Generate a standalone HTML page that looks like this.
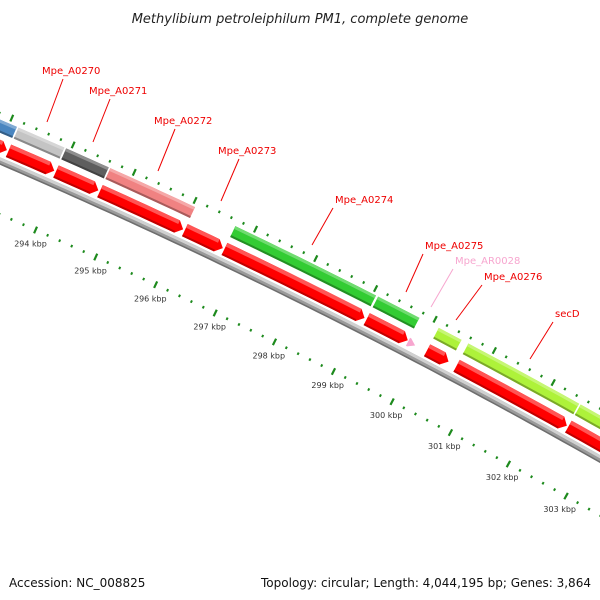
<!DOCTYPE html>
<html><head><meta charset="utf-8"><style>
html,body{margin:0;padding:0;background:#fff;}
svg{display:block;font-family:"DejaVu Sans","Liberation Sans",sans-serif;}
</style></head><body>
<svg id="map" width="600" height="600" viewBox="0 0 600 600" xmlns="http://www.w3.org/2000/svg">
<text x="300" y="23" text-anchor="middle" font-size="13" font-style="italic" fill="#222">Methylibium petroleiphilum PM1, complete genome</text>
<g id="layer"></g>
<text x="9" y="587" font-size="12" fill="#111">Accession: NC_008825</text>
<text x="591" y="587" text-anchor="end" font-size="12" fill="#111" textLength="330" lengthAdjust="spacingAndGlyphs">Topology: circular; Length: 4,044,195 bp; Genes: 3,864</text>
</svg>
<script>
// ---- data ----
const geneNames = ["Mpe_A0269","Mpe_A0270","Mpe_A0271","Mpe_A0272","Mpe_A0274","Mpe_A0275","Mpe_A0276","secD","Mpe_A0278"];
const geneStarts = [291800,293140,293917,294640,296700,299080,300100,300600,302510];
const geneEnds   = [293130,293905,294630,296050,299060,299790,300500,302500,304600];
const geneColors = ["#4a86c0","#c4c4c4","#5e5e5e","#f08282","#33cc33","#33cc33","#aef23a","#aef23a","#aef23a"];
const cdsStarts = [291800,293140,293917,294640,296042,296700,299080,300100,300600,302510];
const cdsEnds   = [293130,293905,294630,296030,296689,299060,299790,300480,302500,304600];
const trnaStart = [299795];
const trnaEnd   = [299915];
const tickKbp = [291,292,293,294,295,296,297,298,299,300,301,302,303,304,305];
const tickLabels = ["291 kbp","292 kbp","293 kbp","294 kbp","295 kbp","296 kbp","297 kbp","298 kbp","299 kbp","300 kbp","301 kbp","302 kbp","303 kbp","304 kbp","305 kbp"];
const labelTexts = ["Mpe_A0270","Mpe_A0271","Mpe_A0272","Mpe_A0273","Mpe_A0274","Mpe_A0275","Mpe_AR0028","Mpe_A0276","secD"];
const labelColors = ["#e00","#e00","#e00","#e00","#e00","#e00","#f7a6cf","#e00","#e00"];
const labelX = [42,89,154,218,335,425,455,484,555];
const labelY = [74,94,124,154,203,249,264,280,317];
const leaderEnd = [[47,122],[93,142],[158,171],[221,201],[312,245],[406,292],[431,307],[456,320],[530,359]];

// ---- geometry: circle through backbone points ----
function circ(a,b,c){
  const d=2*(a[0]*(b[1]-c[1])+b[0]*(c[1]-a[1])+c[0]*(a[1]-b[1]));
  const ux=((a[0]**2+a[1]**2)*(b[1]-c[1])+(b[0]**2+b[1]**2)*(c[1]-a[1])+(c[0]**2+c[1]**2)*(a[1]-b[1]))/d;
  const uy=((a[0]**2+a[1]**2)*(c[0]-b[0])+(b[0]**2+b[1]**2)*(a[0]-c[0])+(c[0]**2+c[1]**2)*(b[0]-a[0]))/d;
  return [ux,uy,Math.hypot(a[0]-ux,a[1]-uy)];
}
const [CX,CY,R]=circ([0,161],[280,290],[600,459]);
const phiA=Math.atan2(161-CY,0-CX), phiB=Math.atan2(290-CY,280-CX);
const S=Math.sign(phiB-phiA);
const PHI0=Math.atan2(186-CY,55-CX);
const PXBP=0.0665;
// negative offset = upper-right side of backbone
function pt(bp,off){
  const f=PHI0+S*(bp-294000)*PXBP/R;
  return [CX+(R-off)*Math.cos(f), CY+(R-off)*Math.sin(f)];
}
const NS="http://www.w3.org/2000/svg";
const layer=document.getElementById('layer');
function mk(tag,attrs){const e=document.createElementNS(NS,tag);for(const k in attrs)e.setAttribute(k,attrs[k]);layer.appendChild(e);return e;}
function band(a,b,o1,o2){
  const pts=[];const n=Math.max(2,Math.ceil((b-a)/150));
  for(let i=0;i<=n;i++)pts.push(pt(a+(b-a)*i/n,o1));
  for(let i=n;i>=0;i--)pts.push(pt(a+(b-a)*i/n,o2));
  return pts.map(p=>p[0].toFixed(2)+","+p[1].toFixed(2)).join(" ");
}
function arrow(a,b,o1,o2,h){
  const pts=[];const e=Math.max(a,b-h);const n=Math.max(2,Math.ceil((e-a)/150));
  for(let i=0;i<=n;i++)pts.push(pt(a+(e-a)*i/n,o1));
  pts.push(pt(b,(o1+o2)/2));
  for(let i=n;i>=0;i--)pts.push(pt(a+(e-a)*i/n,o2));
  return pts.map(p=>p[0].toFixed(2)+","+p[1].toFixed(2)).join(" ");
}
function shade(c,f){const n=parseInt(c.slice(1),16);let r=n>>16,g=(n>>8)&255,b=n&255;
  const m=v=>Math.max(0,Math.min(255,Math.round(f>0?v+(255-v)*f:v*(1+f))));
  return "rgb("+m(r)+","+m(g)+","+m(b)+")";}

// backbone
const bb=mk('polygon',{points:band(290000,306000,-3.5,3.5),fill:'#9a9a9a'});


const bbTop=mk('polygon',{points:band(290000,306000,-3.5,-0.5),fill:'#d0d0d0'});


const bbBot=mk('polygon',{points:band(290000,306000,2,3.5),fill:'#6e6e6e'});



// tick rows
for(let bp=290000;bp<=306000;bp+=200){
  const major=(bp%1000===0);
  [-44,49].forEach(o=>{
    const len=major?3.6:1.3;
    const p1=pt(bp,o-len),p2=pt(bp,o+len);
    const t=mk('line',{x1:p1[0],y1:p1[1],x2:p2[0],y2:p2[1],stroke:'#1d8a1d','stroke-width':major?2.2:2});
    
    
  });
}
tickKbp.forEach((k,i)=>{
  const p=pt(k*1000,64);
  const t=mk('text',{x:(p[0]+1).toFixed(1),y:(p[1]+3).toFixed(1),'text-anchor':'middle','font-size':8,fill:'#333'});
  t.textContent=tickLabels[i];
  
  
});

// genes (upper row)
geneStarts.forEach((s,i)=>{
  const a=s+8,b=geneEnds[i]-8,c=geneColors[i];
  const g=mk('polygon',{points:band(a,b,-38,-26),fill:c});
  
  
  const hi=mk('polygon',{points:band(a,b,-38,-35),fill:shade(c,0.3)});
  
  
  const lo=mk('polygon',{points:band(a,b,-28,-26),fill:shade(c,-0.3)});
  
  
});
// CDS (red arrows)
cdsStarts.forEach((s,i)=>{
  const a=s+8,b=cdsEnds[i]-8;
  const g=mk('polygon',{points:arrow(a,b,-19.5,-6,100),fill:'#f00'});
  
  
  const hi=mk('polygon',{points:band(a,b-100,-19.5,-15.5),fill:'#ff5555'});
  
  
  const lo=mk('polygon',{points:band(a,b-100,-8,-6),fill:'#c00000'});
  
  
});
trnaStart.forEach((s,i)=>{
  const g=mk('polygon',{points:arrow(s,trnaEnd[i],-16,-7,100),fill:'#f7a6cf'});
  
  
});

// labels
labelTexts.forEach((t,i)=>{
  const l=mk('line',{x1:labelX[i]+ (i<4?21:-2),y1:labelY[i]+5,x2:leaderEnd[i][0],y2:leaderEnd[i][1],stroke:labelColors[i],'stroke-width':1});
  
  
  const tx=mk('text',{x:labelX[i],y:labelY[i],'font-size':10,fill:labelColors[i]});
  tx.textContent=t;
  
  
});
</script>
</body></html>
